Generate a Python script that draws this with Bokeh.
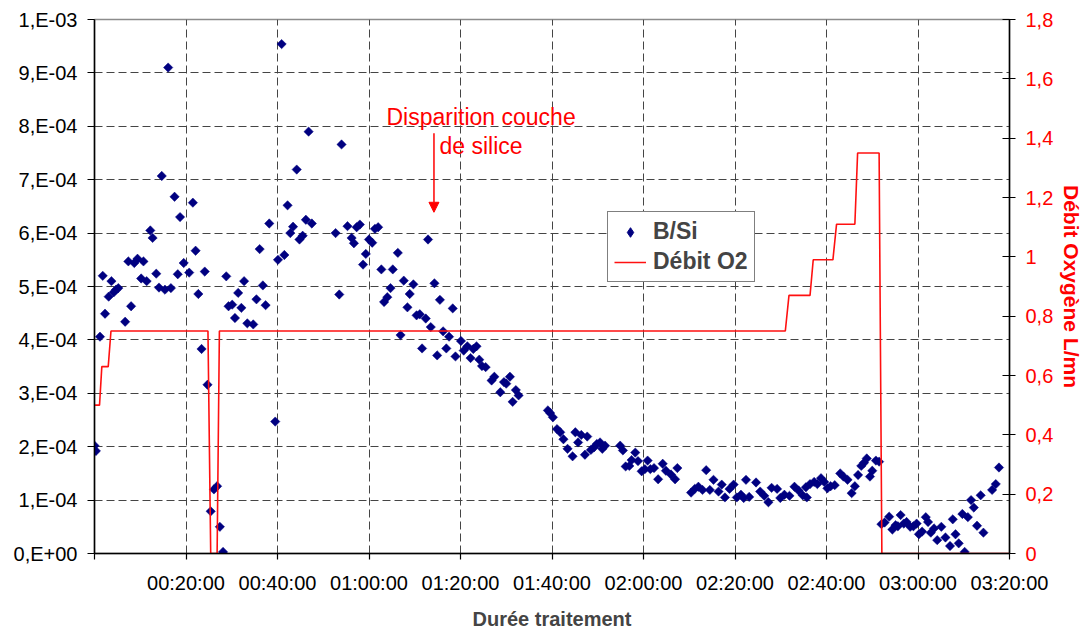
import numpy as np
from bokeh.plotting import figure
from bokeh.models import (Range1d, LinearAxis, FixedTicker, CustomJSTickFormatter,
                          Legend, LegendItem, Label, Arrow, NormalHead)
from bokeh.embed import file_html
from bokeh.resources import INLINE

FONT = "Liberation Sans"

# ---- data -------------------------------------------------------------
# treatment time in minutes
bsi_time = [
    0.0, 0.3, 1.2, 1.8, 2.3, 3.1, 3.7, 4.2, 4.7, 5.2, 6.7, 7.4, 8.0, 8.7, 9.4, 10.2,
    10.7, 11.4, 12.2, 12.7, 13.5, 14.1, 14.7, 15.4, 16.1, 16.7, 17.5, 18.2, 18.7, 19.5,
    20.7, 21.5, 22.1, 22.7, 23.4, 24.1, 24.7, 25.4, 26.1, 26.8, 27.4, 28.1, 28.8, 29.3,
    30.1, 30.7, 31.4, 32.1, 32.7, 33.4, 34.7, 35.4, 36.1, 36.8, 37.4, 38.2, 39.5, 40.1,
    40.9, 41.5, 42.2, 42.8, 43.4, 44.2, 44.8, 45.5, 46.2, 46.8, 47.5,
    52.7, 53.5, 54.0, 55.3, 56.2, 56.7, 57.3, 58.0, 58.7, 59.3, 60.0, 60.7, 61.3, 62.0,
    62.7, 63.3, 64.0, 64.7, 65.2, 66.3, 66.9, 67.6, 68.4, 68.9, 69.7, 70.4, 71.1, 71.6,
    72.4, 72.9, 73.5, 74.3, 74.9, 75.5, 76.2, 76.9, 77.5, 78.3, 78.9, 80.1, 80.7, 81.5,
    82.2, 82.8, 83.5, 84.1, 84.7, 85.5, 86.8, 87.4, 88.7, 89.5, 90.0, 90.8, 91.4, 92.1,
    92.7, 99.1, 99.6, 100.2, 101.1, 101.8, 102.5, 103.4,
    104.5, 105.1, 105.7, 106.4, 107.2, 107.7, 108.5, 109.2, 109.8, 110.5, 111.0, 111.6,
    114.9, 115.5, 116.1, 116.9, 117.4, 118.2, 118.8, 119.6, 120.3, 120.9, 121.5, 122.3,
    123.2, 124.2, 124.9, 126.0, 126.9, 127.4, 130.4, 131.2, 132.0, 132.9, 133.7, 134.5,
    135.3, 136.4, 137.1, 137.8, 138.8, 139.7, 140.4, 141.3, 141.9, 142.4, 143.1, 144.6,
    145.5, 146.4, 147.3, 148.0, 149.2, 149.9, 150.8, 151.9, 153.0, 153.9,
    154.8, 155.5, 155.7, 156.4, 157.3, 158.0, 158.8, 159.5, 160.2, 160.9, 161.8, 163.0,
    163.7, 164.6, 165.5, 166.2, 166.9, 167.6, 168.2, 168.8, 169.5, 170.0, 170.8, 171.5,
    172.0, 172.7, 173.7, 174.4, 175.1, 175.6, 176.2, 176.9, 177.5, 178.3, 179.0, 179.7,
    180.2, 180.9, 181.7, 182.2, 182.8, 183.5, 184.2, 185.1, 186.0, 187.0, 187.6, 188.2,
    188.9, 189.7, 190.2, 190.9, 191.6, 192.2, 192.9, 193.7, 194.3, 196.2, 197.0, 197.7,
]
# B/Si ratio, in units of 1E-04
bsi_e4 = [
    2.02, 1.92, 4.06, 5.20, 4.49, 4.81, 5.10, 4.89, 4.94, 4.97, 4.34, 5.47, 4.63, 5.44, 5.52, 5.15,
    5.47, 5.10, 6.05, 5.91, 5.24, 4.98, 7.07, 4.94, 9.10, 4.97, 6.68, 5.23, 6.30, 5.44,
    5.26, 6.57, 5.67, 4.86, 3.83, 5.28, 3.16, 0.79, 1.20, 1.26, 0.50, 0.03, 5.19, 4.63,
    4.66, 4.41, 4.88, 4.60, 5.10, 4.31, 4.29, 4.76, 5.70, 5.02, 4.65, 6.18, 2.47, 5.50,
    9.54, 5.59, 6.52, 6.00, 6.12, 7.19, 5.88, 5.95, 6.25, 7.90, 6.18,
    6.00, 4.85, 7.66, 6.13, 5.91, 5.81, 6.11, 6.16, 5.41, 5.61, 5.88, 5.82, 6.08, 6.11,
    5.32, 4.71, 4.80, 4.97, 5.32, 5.63, 4.09, 5.11, 4.61, 4.86, 5.04, 4.46, 4.48, 3.84,
    4.40, 5.88, 4.24, 5.06, 3.71, 4.75, 4.16, 3.84, 4.06, 4.59, 3.69, 3.98, 3.80, 3.88,
    3.66, 3.83, 3.88, 3.63, 3.51, 3.49, 3.24, 3.31, 3.02, 3.21, 3.18, 3.31, 2.84, 3.06,
    2.96, 2.68, 2.63, 2.55, 2.33, 2.27, 2.14, 1.96,
    1.82, 2.27, 2.08, 2.22, 1.85, 2.19, 1.94, 1.99, 2.05, 2.08, 1.96, 2.02,
    2.02, 1.93, 1.63, 1.64, 1.75, 1.89, 1.73, 1.54, 1.58, 1.74, 1.58, 1.60,
    1.39, 1.68, 1.55, 1.48, 1.39, 1.60, 1.14, 1.21, 1.25, 1.19, 1.56, 1.19,
    1.38, 1.16, 1.29, 1.05, 1.21, 1.29, 1.05, 1.10, 1.04, 1.38, 1.06, 1.33,
    1.16, 1.08, 0.96, 1.23, 1.21, 1.04, 1.10, 1.08, 1.25, 1.18,
    1.09, 1.24, 1.05, 1.30, 1.34, 1.30, 1.41, 1.34, 1.22, 1.26, 1.28, 1.50,
    1.44, 1.38, 1.13, 1.26, 1.47, 1.64, 1.70, 1.78, 1.44, 1.55, 1.74, 1.72,
    0.55, 0.58, 0.69, 0.45, 0.53, 0.51, 0.72, 0.56, 0.59, 0.50, 0.51, 0.56,
    0.36, 0.41, 0.68, 0.59, 0.39, 0.47, 0.25, 0.50, 0.30, 0.14, 0.64, 0.36,
    0.19, 0.74, 0.03, 0.68, 1.00, 0.86, 0.52, 1.09, 0.39, 1.19, 1.30, 1.61,
]

# oxygen flow (L/mn) vertices
o2_time = [0, 1.1, 1.6, 3.0, 3.6, 24.8, 25.4, 26.8, 27.3, 151.0, 151.8, 156.4, 157.1,
           161.4, 162.2, 166.2, 166.8, 171.5, 172.1, 200]
o2_flow = [0.5, 0.5, 0.63, 0.63, 0.75, 0.75, 0, 0, 0.75, 0.75, 0.87, 0.87, 0.99,
           0.99, 1.11, 1.11, 1.35, 1.35, 0, 0]

x_ticks = [0, 20, 40, 60, 80, 100, 120, 140, 160, 180, 200]
x_tick_labels = ["", "00:20:00", "00:40:00", "01:00:00", "01:20:00", "01:40:00",
                 "02:00:00", "02:20:00", "02:40:00", "03:00:00", "03:20:00"]
y_ticks = list(range(0, 11))
y_tick_labels = ["0,E+00", "1,E-04", "2,E-04", "3,E-04", "4,E-04", "5,E-04",
                 "6,E-04", "7,E-04", "8,E-04", "9,E-04", "1,E-03"]
o2_ticks = [0, 0.2, 0.4, 0.6, 0.8, 1.0, 1.2, 1.4, 1.6, 1.8]

# ---- figure -----------------------------------------------------------
p = figure(frame_width=915, frame_height=534, output_backend="svg",
           toolbar_location=None, x_range=Range1d(0, 200), y_range=Range1d(0, 10),
           min_border_left=94, min_border_top=19, min_border_right=5,
           min_border_bottom=5, background_fill_color="white",
           border_fill_color="white")
p.outline_line_color = "#8c8c8c"
p.outline_line_width = 1.5

p.extra_y_ranges = {"o2": Range1d(0, 1.8)}

# x axis
xa = p.xaxis[0]
xa.ticker = FixedTicker(ticks=x_ticks)
xa.major_label_overrides = {t: l for t, l in zip(x_ticks, x_tick_labels)}
xa.axis_label = "Durée traitement"
xa.axis_label_text_font = FONT
xa.axis_label_text_font_style = "bold"
xa.axis_label_text_font_size = "20px"
xa.axis_label_standoff = 11
xa.major_label_standoff = 12
xa.major_tick_out = 6
xa.major_tick_in = 0

# left axis
ya = p.yaxis[0]
ya.ticker = FixedTicker(ticks=y_ticks)
ya.major_label_overrides = {t: l for t, l in zip(y_ticks, y_tick_labels)}
ya.major_label_standoff = 10
ya.major_tick_out = 7
ya.major_tick_in = 0

# grids (follow the axis tickers)
p.grid.grid_line_color = "#454545"
p.grid.grid_line_dash = "8 4"
p.grid.grid_line_width = 1
p.grid.grid_line_alpha = 1.0

# right axis
ra = LinearAxis(y_range_name="o2", ticker=FixedTicker(ticks=o2_ticks),
                formatter=CustomJSTickFormatter(code="""
                    const s = (Math.round(tick * 10) / 10).toString();
                    return s.replace('.', ',');
                """))
ra.axis_label = "Débit Oxygène L/mn"
ra.axis_label_text_font = FONT
ra.axis_label_text_font_style = "bold"
ra.axis_label_text_font_size = "21px"
ra.axis_label_text_color = "#ff0000"
ra.axis_label_standoff = 4
ra.major_label_text_color = "#ff0000"
ra.major_label_standoff = 10
ra.major_tick_out = 6
ra.major_tick_in = 7
p.add_layout(ra, "right")

for ax in (xa, ya, ra):
    ax.axis_line_color = "black"
    ax.axis_line_width = 1.5
    ax.major_tick_line_color = "black"
    ax.major_tick_line_width = 1.2
    ax.minor_tick_line_color = None
    ax.major_label_text_font = FONT
    ax.major_label_text_font_size = "20px"
ya.major_label_text_color = "black"
xa.major_label_text_color = "black"

# data
sc = p.scatter(bsi_time, bsi_e4, marker="square", angle=np.pi / 4, size=6.6,
               fill_color="#000080", line_color="#000080", line_width=0.5)
ln = p.line(o2_time, o2_flow, y_range_name="o2", line_color="#ff1010",
            line_width=1.6)
# legend swatch only (a diamond that is not drawn in the plot: NaN position)
sw = p.scatter([float("nan")], [float("nan")], marker="diamond", size=13,
               fill_color="#000080", line_color="#000080")

# annotation
p.add_layout(Arrow(end=NormalHead(size=10, fill_color="#ff0000", line_color="#ff0000"),
                   x_start=74.2, y_start=7.87, x_end=74.2, y_end=6.39,
                   line_color="#ff0000", line_width=1.5))
for txt, yy in (("Disparition couche", 8.17), ("de silice", 7.63)):
    p.add_layout(Label(x=84.5, y=yy, text=txt, text_align="center",
                       text_baseline="alphabetic", text_color="#ff0000",
                       text_font=FONT, text_font_size="23px"))

legend = Legend(items=[LegendItem(label="B/Si", renderers=[sw]),
                       LegendItem(label="Débit O2", renderers=[ln])],
                location=(513, 271), padding=6, spacing=3, margin=0,
                glyph_width=32, glyph_height=24, label_height=24,
                label_standoff=7, border_line_color="black",
                border_line_width=1.2, background_fill_color="white",
                background_fill_alpha=1.0,
                label_text_font=FONT, label_text_font_style="bold",
                label_text_font_size="23px")
p.add_layout(legend)

open("out.html", "w").write(file_html(p, INLINE))
